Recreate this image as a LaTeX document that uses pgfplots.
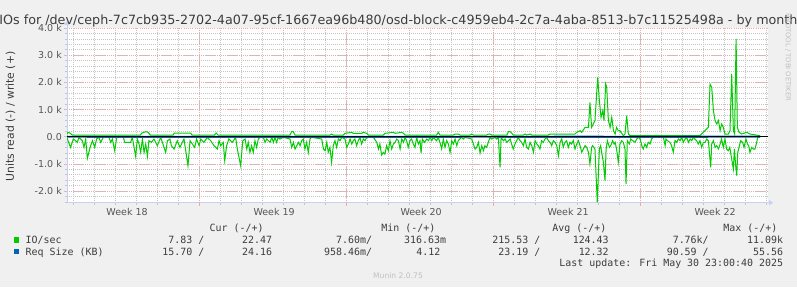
\documentclass[border=0pt]{standalone}
\usepackage{fontspec}
\setmainfont{DejaVu Sans}
\newfontfamily\monofont{DejaVu Sans Mono}
\usepackage{pgfplots}
\pgfplotsset{compat=1.18}
\usetikzlibrary{arrows.meta}
\pgfdeclarelayer{background}
\pgfsetlayers{background,main}
\definecolor{bg}{HTML}{F0F0F0}
\definecolor{ioGreen}{HTML}{00CC00}
\definecolor{reqBlue}{HTML}{0066B3}
\definecolor{axisBlue}{HTML}{C8CFF2}
\definecolor{gridGray}{HTML}{C4C4C4}
\definecolor{gridRed}{HTML}{F2A8A8}
\definecolor{txt}{HTML}{3C3C3C}
\definecolor{tickc}{HTML}{555555}
\definecolor{wm}{HTML}{C0C0C0}
\begin{document}
\begin{tikzpicture}
\begin{axis}[
  name=ax, at={(0,0)}, anchor=south west,
  width=701bp, height=174.7bp, scale only axis,
  xmin=0, xmax=33.38, ymin=-2430, ymax=4000,
  axis background/.style={fill=white},
  axis lines=left,
  axis line style={draw=axisBlue, line width=0.8bp},
  x axis line style={-{Triangle[length=4bp,width=5bp]}, shorten >=-5bp},
  y axis line style={-{Triangle[length=4bp,width=5bp]}, shorten >=-7bp},
  tick align=outside,
  major tick length=3bp, minor tick length=2bp,
  tick style={draw=gridGray, line width=0.6bp},
  xtick={2.86,9.86,16.86,23.86,30.86},
  xticklabels={Week 18,Week 19,Week 20,Week 21,Week 22},
  major x tick style={draw=none},
  minor xtick={0.286,1.286,...,33.286},
  xmajorgrids=false, xminorgrids=true,
  minor x grid style={gridGray, dash pattern=on 1bp off 1bp, line width=0.7bp},
  extra x ticks={6.286,13.286,20.286,27.286},
  extra x tick labels={},
  extra x tick style={xmajorgrids=true, major x grid style={gridRed, dash pattern=on 1bp off 1.2bp, line width=0.7bp}, major x tick style={draw=gridRed}},
  ytick={-2000,-1000,0,1000,2000,3000,4000},
  yticklabels={-2.0 k,-1.0 k,0.0,1.0 k,2.0 k,3.0 k,4.0 k},
  minor ytick={-2400,-2200,...,3800},
  ymajorgrids=true, yminorgrids=true,
  major y grid style={gridRed, dash pattern=on 1bp off 1.2bp, line width=0.7bp},
  minor y grid style={gridGray, dash pattern=on 1bp off 1bp, line width=0.7bp},
  ticklabel style={font=\fontsize{9.5bp}{11bp}\selectfont, text=tickc, inner sep=0pt},
  yticklabel style={anchor=east, xshift=-2bp},
  xticklabel style={anchor=north, yshift=-2.5bp},
  clip=true,
]
% IO/sec read (negative)
\addplot[ioGreen, line width=1bp] coordinates {
(0.00,-50) (0.17,-393) (0.30,-86) (0.41,-147) (0.49,-209) (0.57,-25) (0.65,-86) (0.73,-147) (0.81,-393) (0.89,-86)
(0.97,-798) (1.10,-393) (1.21,-147) (1.32,-393) (1.41,-86) (1.52,-25) (1.60,-209) (1.73,-25) (2.00,-25) (2.08,-209)
(2.16,-86) (2.27,-515) (2.37,-25) (2.68,-25) (2.75,-209) (3.03,-209) (3.11,-25) (3.27,-724) (3.35,-86) (3.43,-270)
(3.51,-577) (3.59,-86) (3.67,-577) (3.75,-270) (3.83,-724) (3.90,-147) (4.02,-209) (4.14,-86) (4.30,-331) (4.46,-25)
(4.70,-577) (4.78,-147) (4.90,-86) (4.97,-331) (5.10,-454) (5.25,-147) (5.38,-393) (5.49,-209) (5.57,-86) (5.76,-1067)
(5.86,-147) (5.97,-270) (6.08,-393) (6.17,-86) (6.29,-331) (6.37,-86) (6.52,-209) (6.68,-25) (6.84,-147) (7.00,-331)
(7.16,-454) (7.24,-147) (7.32,-331) (7.44,-209) (7.51,-883) (7.60,-331) (7.71,-86) (7.87,-209) (8.03,-25) (8.11,-454)
(8.27,-1067) (8.37,-147) (8.48,-86) (8.56,-454) (8.63,-209) (8.71,-577) (8.79,-331) (8.87,-577) (8.95,-147) (9.03,-393)
(9.11,-86) (9.19,-25) (9.35,-25) (9.43,-209) (9.51,-86) (9.67,-209) (9.75,-25) (9.83,-209) (9.90,-25) (9.98,-209)
(10.06,-25) (10.14,-86) (10.30,-25) (10.62,-86) (10.70,-393) (10.78,-209) (10.86,-454) (10.94,-331) (11.02,-209) (11.10,-331)
(11.17,-147) (11.25,-86) (11.33,-454) (11.41,-209) (11.49,-577) (11.57,-86) (11.65,-25) (12.13,-86) (12.21,-454) (12.29,-515)
(12.37,-209) (12.44,-577) (12.52,-393) (12.60,-945) (12.68,-331) (12.76,-147) (12.84,-393) (12.92,-86) (13.00,-147) (13.08,-25)
(13.24,-86) (13.32,-393) (13.40,-270) (13.48,-86) (13.56,-270) (13.63,-147) (13.71,-86) (13.79,-331) (13.87,-147) (13.95,-25)
(14.03,-270) (14.11,-86) (14.19,-147) (14.27,-25) (14.59,-25) (14.75,-209) (14.83,-454) (14.90,-270) (14.98,-675) (15.06,-577)
(15.14,-638) (15.22,-331) (15.30,-515) (15.38,-147) (15.46,-454) (15.54,-270) (15.62,-209) (15.70,-86) (15.78,-147) (15.86,-454)
(15.94,-86) (16.02,-209) (16.10,-25) (16.17,-147) (16.25,-393) (16.33,-147) (16.41,-86) (16.49,-270) (16.57,-393) (16.65,-25)
(16.73,-270) (16.81,-147) (16.86,-601) (16.92,-86) (17.02,-209) (17.13,-86) (17.21,-147) (17.29,-25) (17.37,-147) (17.44,-25)
(17.52,-86) (17.60,-147) (17.68,-25) (17.76,-209) (17.84,-454) (17.92,-86) (18.00,-393) (18.08,-147) (18.16,-270) (18.24,-577)
(18.32,-147) (18.40,-270) (18.48,-86) (18.56,-331) (18.63,-147) (18.79,-25) (18.87,-86) (18.95,-25) (19.27,-86) (19.35,-270)
(19.43,-454) (19.51,-393) (19.59,-209) (19.67,-601) (19.75,-331) (19.83,-515) (19.90,-331) (19.98,-393) (20.06,-209) (20.14,-25)
(20.22,-86) (20.38,-25) (20.46,-86) (20.54,-25) (20.62,-1129) (20.67,-25) (20.78,-147) (20.86,-86) (20.94,-209) (21.02,-147)
(21.10,-86) (21.17,-270) (21.25,-454) (21.33,-270) (21.41,-147) (21.49,-25) (21.57,-147) (21.65,-209) (21.73,-331) (21.81,-86)
(21.89,-393) (21.97,-454) (22.05,-209) (22.13,-331) (22.21,-577) (22.29,-147) (22.37,-270) (22.44,-331) (22.52,-454) (22.60,-147)
(22.68,-209) (22.76,-86) (22.84,-25) (22.92,-147) (23.00,-209) (23.08,-331) (23.16,-147) (23.24,-209) (23.32,-331) (23.40,-700)
(23.48,-209) (23.56,-86) (23.63,-393) (23.71,-209) (23.79,-147) (23.87,-393) (23.95,-209) (24.03,-270) (24.11,-147) (24.19,-454)
(24.27,-270) (24.35,-147) (24.43,-331) (24.51,-577) (24.59,-454) (24.67,-331) (24.75,-393) (24.83,-577) (24.90,-1006) (24.98,-393)
(25.03,-331) (25.14,-454) (25.25,-2420) (25.35,-454) (25.41,-331) (25.46,-577) (25.54,-945) (25.62,-1620) (25.67,-454) (25.73,-147)
(25.83,-393) (25.89,-331) (25.98,-147) (26.05,-270) (26.10,-209) (26.17,-454) (26.25,-945) (26.33,-270) (26.41,-147) (26.49,-209)
(26.57,-454) (26.62,-1742) (26.68,-147) (26.78,-270) (26.84,-86) (26.94,-147) (27.05,-209) (27.13,-86) (27.21,-25) (27.29,-86)
(27.37,-331) (27.44,-454) (27.52,-270) (27.60,-393) (27.68,-209) (27.76,-270) (27.84,-86) (27.92,-25) (28.40,-25) (28.48,-331)
(28.52,-86) (28.59,-147) (28.71,-209) (28.79,-331) (28.87,-577) (28.95,-147) (29.03,-209) (29.11,-86) (29.19,-147) (29.27,-25)
(29.35,-209) (29.43,-86) (29.51,-25) (29.59,-209) (29.67,-86) (29.75,-147) (29.83,-25) (29.90,-86) (29.98,-147) (30.06,-270)
(30.14,-147) (30.22,-393) (30.30,-209) (30.38,-209) (30.46,-86) (30.54,-147) (30.65,-1129) (30.70,-270) (30.78,-147) (30.86,-393)
(30.94,-331) (31.02,-454) (31.10,-270) (31.17,-86) (31.25,-393) (31.33,-86) (31.41,-454) (31.49,-515) (31.56,-393) (31.65,-822)
(31.73,-1190) (31.78,-454) (31.84,-1067) (31.89,-1436) (31.94,-577) (32.00,-393) (32.08,-147) (32.17,-209) (32.24,-393) (32.33,-86)
(32.40,-270) (32.46,-331) (32.52,-577) (32.60,-393) (32.68,-454) (32.76,-454) (32.84,-209) (32.89,-25) (33.00,-25)
};
% IO/sec write (positive)
\addplot[ioGreen, line width=1bp] coordinates {
(0.00,100) (0.05,160) (0.14,135) (0.25,61) (3.49,61) (3.57,135) (3.75,184) (3.86,160) (3.97,61) (5.05,61)
(5.11,135) (5.89,135) (5.95,61) (7.02,61) (7.10,135) (7.19,61) (10.62,61) (10.70,184) (10.78,184) (10.86,61)
(12.52,61) (12.60,98) (12.68,61) (13.16,61) (13.24,123) (13.56,160) (13.63,123) (14.03,123) (14.11,160) (14.27,123)
(14.35,61) (15.06,61) (15.14,123) (15.54,160) (15.62,123) (15.94,160) (16.02,123) (16.10,61) (17.60,61) (17.68,160)
(17.76,61) (18.40,61) (18.48,98) (18.63,98) (18.71,61) (19.19,61) (19.27,98) (19.35,61) (19.98,61) (20.06,98)
(20.14,98) (20.22,61) (20.95,61) (21.02,184) (21.10,184) (21.17,135) (21.25,61) (21.73,61) (21.81,98) (21.89,61)
(22.05,98) (22.13,61) (22.92,61) (23.00,98) (24.19,98) (24.27,160) (24.43,221) (24.51,160) (24.67,344) (24.83,344)
(24.90,1264) (24.98,344) (25.14,589) (25.27,2184) (25.35,1325) (25.43,712) (25.51,957) (25.57,589) (25.65,1939) (25.70,1816)
(25.78,589) (25.86,344) (25.94,712) (26.02,221) (26.10,98) (26.17,344) (26.25,221) (26.33,221) (26.49,37) (26.57,98)
(26.65,773) (26.73,98) (26.81,37) (30.14,37) (30.54,344) (30.62,1939) (30.70,1816) (30.78,957) (30.86,589) (30.94,466)
(31.02,589) (31.10,221) (31.17,466) (31.25,344) (31.33,98) (31.49,98) (31.57,221) (31.65,2307) (31.73,221) (31.79,98)
(31.86,3595) (31.92,344) (32.00,160) (32.13,98) (32.37,160) (32.52,98) (33.00,37)
};
% Req size read (negative) and write (positive)
\addplot[reqBlue, line width=1bp] coordinates {
(0,-20) (5,-25) (10,-22) (15,-24) (20,-20) (25,-30) (30,-22) (33,-16)
};
\addplot[reqBlue, line width=1bp] coordinates {
(0,15) (5,12) (10,10) (15,14) (20,12) (25,18) (27,10) (31,20) (33,24)
};
% zero line
\addplot[black, line width=1bp] coordinates {(0,0) (33.38,0)};
\end{axis}
\begin{scope}[shift={(ax.south west)}]
\begin{scope}[x=1bp, y=1bp, shift={(-67bp,202.7bp)}]
\begin{pgfonlayer}{background}
\fill[bg] (0,0) rectangle (797,-287);
\end{pgfonlayer}
% title
\node[anchor=base, inner sep=0, font=\fontsize{12.72bp}{14bp}\selectfont, text=txt] at (398.5,-24)
  {IOs for /dev/ceph-7c7cb935-2702-4a07-95cf-1667ea96b480/osd-block-c4959eb4-2c7a-4aba-8513-b7c11525498a - by month};
% y label
\node[rotate=90, inner sep=0, font=\fontsize{10.8bp}{12bp}\selectfont, text=txt] at (10.5,-116.5) {Units read (-) / write (+)};
% watermark
\node[rotate=-90, inner sep=0, font=\fontsize{6.8bp}{8bp}\selectfont, text=wm] at (788,-57.5) {RRDTOOL / TOBI OETIKER};
\node[inner sep=0, font=\fontsize{7.6bp}{9bp}\selectfont, text=wm] at (398,-276) {Munin 2.0.75};
% legend
\begin{scope}[every node/.style={inner sep=0, font=\monofont\fontsize{9.95bp}{12bp}\selectfont, text=txt}]
\node[anchor=base east] at (263.8,-231.5) {Cur (-/+)};
\node[anchor=base east] at (435.5,-231.5) {Min (-/+)};
\node[anchor=base east] at (606.5,-231.5) {Avg (-/+)};
\node[anchor=base east] at (777.5,-231.5) {Max (-/+)};
\node[anchor=base west] at (14,-242.7) {\textcolor{ioGreen}{\rule{5.3bp}{5.3bp}}};
\node[anchor=base west] at (25.5,-243.3) {IO/sec};
\node[anchor=base east] at (204.6,-243.3) {7.83 /};
\node[anchor=base east] at (272.3,-243.3) {22.47};
\node[anchor=base east] at (372.3,-243.3) {7.60m/};
\node[anchor=base east] at (446.3,-243.3) {316.63m};
\node[anchor=base east] at (540.6,-243.3) {215.53 /};
\node[anchor=base east] at (608.9,-243.3) {124.43};
\node[anchor=base east] at (708.9,-243.3) {7.76k/};
\node[anchor=base east] at (783.2,-243.3) {11.09k};
\node[anchor=base west] at (14,-254.4) {\textcolor{reqBlue}{\rule{5.3bp}{5.3bp}}};
\node[anchor=base west] at (25.5,-255.1) {Req Size (KB)};
\node[anchor=base east] at (204.6,-255.1) {15.70 /};
\node[anchor=base east] at (272.3,-255.1) {24.16};
\node[anchor=base east] at (372.3,-255.1) {958.46m/};
\node[anchor=base east] at (440.6,-255.1) {4.12};
\node[anchor=base east] at (540.6,-255.1) {23.19 /};
\node[anchor=base east] at (608.9,-255.1) {12.32};
\node[anchor=base east] at (708.9,-255.1) {90.59 /};
\node[anchor=base east] at (783.3,-255.1) {55.56};
\node[anchor=base east] at (783.3,-266.8) {Last update: Fri May 30 23:00:40 2025};
\end{scope}
\pgfresetboundingbox
\useasboundingbox (0,0) rectangle (797,-287);
\end{scope}
\end{scope}
\end{tikzpicture}
\end{document}
